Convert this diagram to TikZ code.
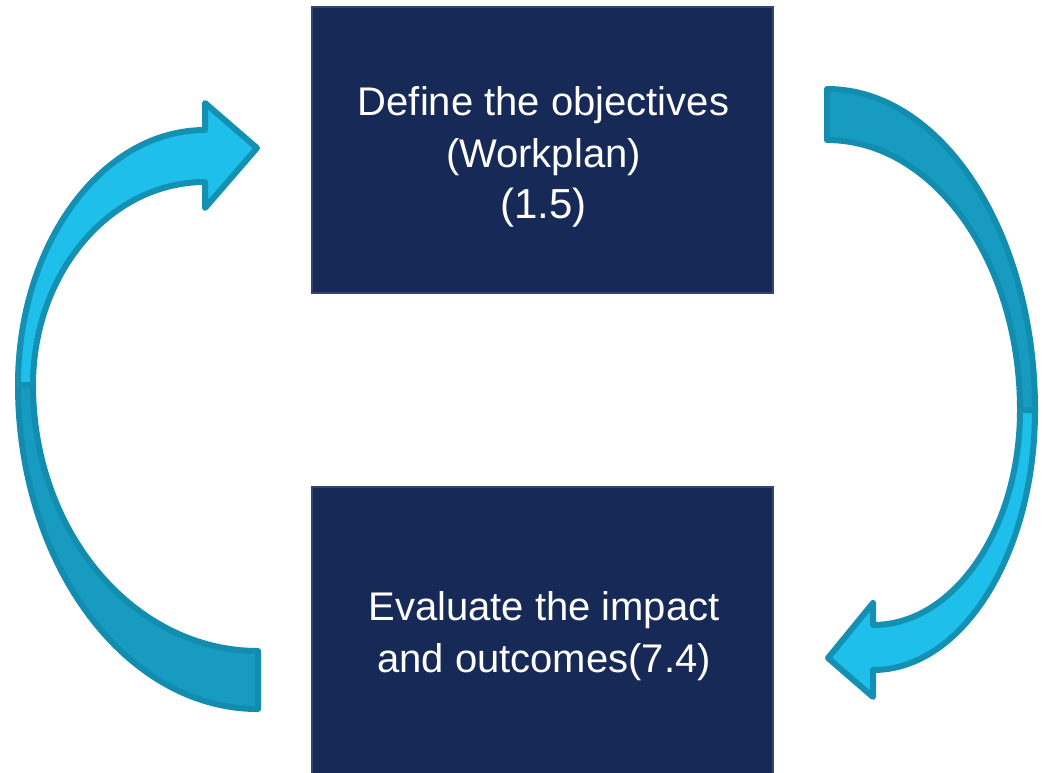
\documentclass[tikz,border=0pt]{standalone}
\usepackage{fontspec}
\setmainfont{Liberation Sans}
\definecolor{navy}{HTML}{172957}
\definecolor{navyedge}{HTML}{34466F}
\definecolor{backfill}{HTML}{179BC1}
\definecolor{backline}{HTML}{128DAF}
\definecolor{frontfill}{HTML}{1EC0EB}
\definecolor{frontline}{HTML}{1490B2}
\tikzset{
  box/.style={draw=navyedge, fill=navy, line width=1.5pt},
  lbl/.style={text=white, font=\fontsize{40}{48}\selectfont, inner sep=0pt, anchor=base},
  lblbig/.style={lbl, font=\fontsize{42}{50}\selectfont},
  backpart/.style={fill=backfill, draw=backline, line width=6pt, line join=round},
  frontpart/.style={fill=frontfill, draw=frontline, line width=6pt, line join=round},
}
\begin{document}
\begin{tikzpicture}[x=1pt, y=-1pt]
\useasboundingbox (0,0) rectangle (1043,772);
% boxes
\draw[box] (312,7) rectangle (773,293);
\node[inner sep=0pt, minimum width=461pt, minimum height=286pt] (top) at (542.5,150) {};
\draw[box] (312,487) rectangle (773,775);
\node[inner sep=0pt, minimum width=461pt, minimum height=285pt] (bottom) at (542.5,630) {};
% texts
\node[lbl] (t1) at (543.5,115) {Define the objectives};
\node[lbl] (t2) at (543.5,167) {(Workplan)};
\node[lblbig] (t3) at (543.5,218) {(1.5)};
\node[lbl] (b1) at (544,620) {Evaluate the impact};
\node[lbl] (b2) at (544,672) {and outcomes(7.4)};
% right arrow: back part
\draw[backpart] (827,89) .. controls (941.9,89) and (1035,232.7) .. (1035,410)
  -- (1020,410) .. controls (1020,260.9) and (933.6,140) .. (827,140) -- cycle;
% right arrow: front part
\draw[frontpart] (1035,410) .. controls (1035,553.6) and (962.5,670) .. (873,670)
  -- (873,697) -- (828,658) -- (873,603) -- (873,625)
  .. controls (954.2,625) and (1020,528.7) .. (1020,410) -- cycle;
% left arrow: back part
\draw[backpart] (258,709) .. controls (125.4,709) and (18,564) .. (18,385)
  -- (33,385) .. controls (33,531.9) and (133.7,651) .. (258,651) -- cycle;
% left arrow: front part
\draw[frontpart] (18,385) .. controls (18,244.2) and (101.7,130) .. (205,130)
  -- (205,103) -- (257,148) -- (205,208) -- (205,182)
  .. controls (110,182) and (33,272.9) .. (33,385) -- cycle;
\end{tikzpicture}
\end{document}
